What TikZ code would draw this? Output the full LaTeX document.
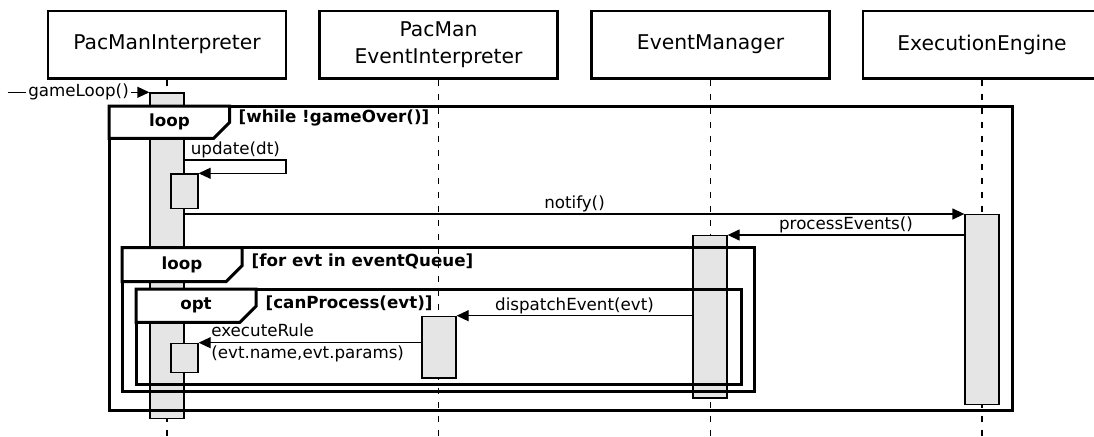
\documentclass[tikz,border=0pt]{standalone}
\usepackage{fontspec}
\setmainfont{DejaVu Sans}
\usetikzlibrary{arrows.meta,positioning}
\definecolor{actgray}{RGB}{229,229,229}
\tikzstyle{lifebox}=[draw,line width=2.7pt,minimum width=238pt,minimum height=67.3pt,align=center,font=\fontsize{20.3}{26.6}\selectfont]
\tikzstyle{lifedash}=[line width=1.5pt,dash pattern=on 6pt off 8pt]
\tikzstyle{act}=[draw,fill=actgray,line width=1.3pt,minimum width=34pt,inner sep=0pt,anchor=north]
\tikzstyle{subact}=[act,minimum width=27pt]
\tikzstyle{msg}=[line width=1.3pt,-{Triangle[length=12pt,width=11pt]}]
\tikzstyle{msglabel}=[font=\fontsize{16.7}{22.3}\selectfont,inner sep=1.5pt]
\tikzstyle{fragment}=[line width=3pt]
\tikzstyle{fragtag}=[font=\bfseries\fontsize{16.7}{20}\selectfont,inner sep=0pt]
\tikzstyle{guard}=[font=\bfseries\fontsize{16.7}{20}\selectfont,anchor=west,inner sep=0pt]

\begin{document}
\begin{tikzpicture}[x=1pt,y=-1pt]
  \useasboundingbox (0,0) rectangle (1094,436);
  \coordinate (bottom) at (0,436);

  % participants
  \node[lifebox] (pmi) at (167,44.7) {PacManInterpreter};
  \node[lifebox] (pei) at (438.5,44.7) {PacMan\\EventInterpreter};
  \node[lifebox] (em) at (710.5,44.7) {EventManager};
  \node[lifebox] (ee) at (982,44.7) {ExecutionEngine};
  \foreach \p in {pmi,pei,em,ee}
    \draw[lifedash] (\p.south) -- (\p.south |- bottom);

  % activations
  \node[act,minimum height=325.4pt] (pmiAct) at (167,92.3) {};
  \node[subact,minimum height=34.4pt] (pmiSubA) at (184.5,173.3) {};
  \node[subact,minimum height=29pt] (pmiSubB) at (184.5,342.7) {};
  \node[act,minimum height=190pt] (eeAct) at (982,214) {};
  \node[act,minimum height=162.3pt] (emAct) at (710,235) {};
  \node[act,minimum height=61.6pt] (peiAct) at (439,315.7) {};

  % messages
  \coordinate (gameStart) at (7.7,92.3);
  \draw[msg] (gameStart) -- node[msglabel,fill=white,inner sep=2pt] (gameLbl) {gameLoop()} (pmiAct.north west);
  \coordinate (updTurn) at (286,160);
  \draw[msg] (pmiAct.east |- updTurn) -- (updTurn) |- (pmiSubA.north east);
  \node[msglabel,anchor=south west,inner sep=2pt] (updLbl) at ([xshift=4pt]pmiAct.east |- updTurn) {update(dt)};
  \draw[msg] (pmiAct.east |- eeAct.north) -- node[msglabel,above] (notifyLbl) {notify()} (eeAct.north west);
  \draw[msg] (eeAct.west |- emAct.north) -- node[msglabel,above] (procLbl) {processEvents()} (emAct.north east);
  \draw[msg] (emAct.west |- peiAct.north) -- node[msglabel,above] (dispLbl) {dispatchEvent(evt)} (peiAct.north east);
  \draw[msg] (peiAct.west |- pmiSubB.north) -- (pmiSubB.north east);
  \node[msglabel,align=left,right=11pt of pmiSubB.north east] (execLbl) {executeRule\\(evt.name,evt.params)};

  % combined fragments
  \draw[fragment] (109,106) rectangle (1012.7,410.7);
  \draw[fragment,fill=white] (109,106) -- (229.7,106) -- (229.7,122.3) -- (213.7,138.3) -- (109,138.3) -- cycle;
  \node[fragtag] (outerTag) at (169.4,122.2) {loop};
  \node[guard] (outerGuard) at (238.5,118) {[while !gameOver()]};

  \draw[fragment] (122,247.7) rectangle (754.8,391.7);
  \draw[fragment,fill=white] (122,247.7) -- (242,247.7) -- (242,265.7) -- (226,281.7) -- (122,281.7) -- cycle;
  \node[fragtag] (innerTag) at (182,264.7) {loop};
  \node[guard] (innerGuard) at (251.5,261.7) {[for evt in eventQueue]};

  \draw[fragment] (136,289) rectangle (741,384.3);
  \draw[fragment,fill=white] (136,289) -- (256,289) -- (256,306.3) -- (240,322.3) -- (136,322.3) -- cycle;
  \node[fragtag] (optTag) at (196,305.6) {opt};
  \node[guard] (optGuard) at (265.5,303.3) {[canProcess(evt)]};
\end{tikzpicture}
\end{document}
